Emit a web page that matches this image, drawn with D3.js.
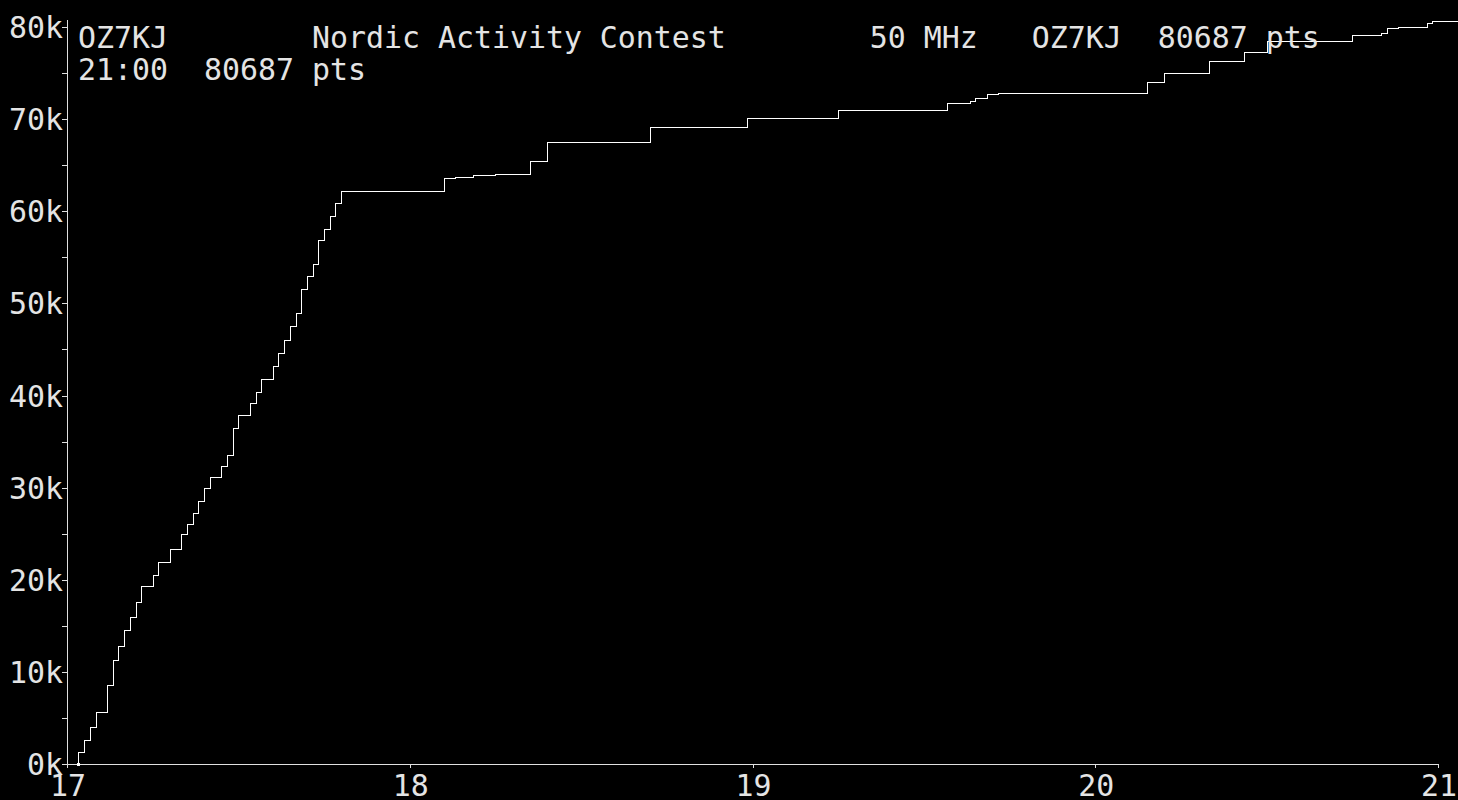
<!DOCTYPE html>
<html><head><meta charset="utf-8">
<script src="https://cdn.jsdelivr.net/npm/d3@7"></script>
<style>html,body{margin:0;padding:0;background:#000;overflow:hidden}</style>
</head><body><svg id="c" width="1458" height="800"></svg>
<script>
// ---- data ----
const headerLines = [
  "OZ7KJ        Nordic Activity Contest        50 MHz   OZ7KJ  80687 pts",
  "21:00  80687 pts"
];
const hourTicks = [17, 18, 19, 20, 21];
const yTickValues = [0, 10000, 20000, 30000, 40000, 50000, 60000, 70000, 80000];
const yTickLabels = ["0k", "10k", "20k", "30k", "40k", "50k", "60k", "70k", "80k"];
const yMinorTicks = [5000, 15000, 25000, 35000, 45000, 55000, 65000, 75000];
// minutes after 17:00 at which the score steps up
const minutes = [2, 3, 4, 5, 7, 8, 9, 10, 11, 12, 13, 15, 16, 18, 20, 21, 22, 23, 24, 25,
  27, 28, 29, 30, 32, 33, 34, 36, 37, 38, 39, 40, 41, 42, 43, 44, 45, 46, 47, 48,
  66, 68, 71, 75, 81, 84, 102, 119, 135, 154, 158, 159, 161, 163, 189, 192, 200, 206,
  210, 225, 230, 231, 233, 238, 239];
// cumulative score after each step
const scores = [1335, 2573, 3984, 5677, 8543, 11257, 12842, 14513, 15925, 17552, 19289,
  20484, 21895, 23306, 24934, 26020, 27214, 28517, 29928, 31122, 32316, 33510, 36441,
  37852, 39155, 40349, 41760, 43171, 44583, 45994, 47514, 48925, 51530, 52941, 54244,
  56849, 58043, 59454, 60865, 62168, 63579, 63687, 63905, 64013, 65424, 67487, 69115,
  70092, 70961, 71721, 71938, 72263, 72698, 72806, 73999, 74976, 76279, 77256, 78450,
  79101, 79318, 79861, 79969, 80403, 80687];
const endMinute = 243.6;

// ---- drawing ----
const svg = d3.select("#c");
const textColor = "#e4e4e4";
const font = "'DejaVu Sans Mono', 'Liberation Mono', monospace";

const x = d3.scaleLinear().domain([17, 21]).range([67, 1438]);
const y = d3.scaleLinear().domain([0, 80000]).range([764, 27]);

svg.append("rect").attr("width", 1458).attr("height", 800).attr("fill", "#000");

const g = svg.append("g").attr("shape-rendering", "crispEdges");

// y axis line
g.append("line").attr("x1", 67.5).attr("x2", 67.5).attr("y1", 20).attr("y2", 767)
  .attr("stroke", "#e0e0e0").attr("stroke-width", 1);
// x axis line
g.append("line").attr("x1", 63).attr("x2", x(21) + 0.5).attr("y1", 764.5).attr("y2", 764.5)
  .attr("stroke", "#e0e0e0").attr("stroke-width", 1);

// y ticks (major + minor)
const allY = yTickValues.concat(yMinorTicks);
g.selectAll(".yt").data(allY).join("line")
  .attr("x1", 62).attr("x2", 67)
  .attr("y1", d => Math.round(y(d)) + 0.5).attr("y2", d => Math.round(y(d)) + 0.5)
  .attr("stroke", "#e0e0e0");

// x ticks
g.selectAll(".xt").data(hourTicks).join("line")
  .attr("x1", d => Math.round(x(d)) + 0.5).attr("x2", d => Math.round(x(d)) + 0.5)
  .attr("y1", 764).attr("y2", 768)
  .attr("stroke", "#e0e0e0");

// y labels
svg.selectAll(".yl").data(yTickValues).join("text")
  .attr("x", 63).attr("y", d => y(d) + 11)
  .attr("text-anchor", "end")
  .attr("font-family", font).attr("font-size", "29.9px")
  .attr("fill", textColor)
  .text((d, i) => yTickLabels[i]);

// x labels
svg.selectAll(".xl").data(hourTicks).join("text")
  .attr("x", d => x(d) + 1).attr("y", 796)
  .attr("text-anchor", "middle")
  .attr("font-family", font).attr("font-size", "29.9px")
  .attr("fill", textColor)
  .text(d => String(d));

// step line
const pts = [[minutes[0], 0]];
minutes.forEach((m, i) => pts.push([m, scores[i]]));
pts.push([endMinute, scores[scores.length - 1]]);
const line = d3.line()
  .x(d => Math.round(x(17 + d[0] / 60)) + 0.5)
  .y(d => Math.round(y(d[1])) + 0.5)
  .curve(d3.curveStepAfter);
svg.append("path").datum(pts)
  .attr("d", line)
  .attr("fill", "none").attr("stroke", "#ffffff").attr("stroke-width", 1.2)
  .attr("shape-rendering", "crispEdges");

// start marker
svg.append("rect")
  .attr("x", Math.round(x(17 + minutes[0] / 60)) - 1)
  .attr("y", Math.round(y(0)) - 1)
  .attr("width", 3).attr("height", 3)
  .attr("fill", "#ffffff");

// header
svg.selectAll(".hd").data(headerLines).join("text")
  .attr("x", 78).attr("y", (d, i) => 48 + i * 32)
  .attr("font-family", font).attr("font-size", "29.9px")
  .attr("fill", textColor)
  .style("white-space", "pre")
  .attr("xml:space", "preserve")
  .text(d => d);
</script>
</body></html>
